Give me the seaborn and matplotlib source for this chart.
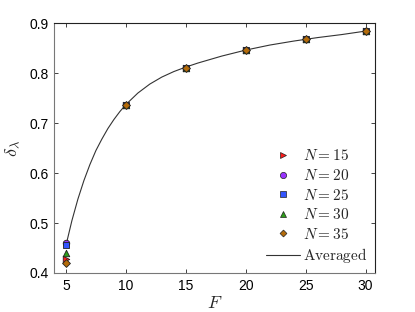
import pandas as pd
import matplotlib
matplotlib.use("Agg")
import matplotlib.pyplot as plt
import seaborn as sns
import numpy as np
from matplotlib.lines import Line2D

# values
F_vals = [5, 10, 15, 20, 25, 30]
N_vals = [15, 20, 25, 30, 35]
delta_N15 = [0.428, 0.737, 0.811, 0.847, 0.869, 0.885]
delta_N20 = [0.461, 0.737, 0.811, 0.847, 0.869, 0.885]
delta_N25 = [0.456, 0.737, 0.811, 0.847, 0.869, 0.885]
delta_N30 = [0.441, 0.737, 0.811, 0.847, 0.869, 0.885]
delta_N35 = [0.421, 0.737, 0.811, 0.847, 0.869, 0.885]

# averaged curve, read at many F
avg_F = [5, 5.5, 6, 6.5, 7, 7.5, 8, 8.5, 9, 9.5, 10, 11, 12, 13, 14, 15,
         16, 17, 18, 19, 20, 22, 24, 26, 28, 30]
avg_delta = [0.455, 0.505, 0.548, 0.585, 0.617, 0.645, 0.668, 0.689, 0.707,
             0.723, 0.737, 0.760, 0.778, 0.792, 0.803, 0.812, 0.820, 0.827,
             0.834, 0.840, 0.846, 0.856, 0.864, 0.871, 0.877, 0.884]

series = [delta_N15, delta_N20, delta_N25, delta_N30, delta_N35]
markers = [">", "o", "s", "^", "D"]
colors = ["#ff1a1a", "#9933ff", "#3355ff", "#2e9e1a", "#b36b0a"]

rows = []
for n, vals in zip(N_vals, series):
    for f, d in zip(F_vals, vals):
        rows.append({"F": f, "delta": d, "N": n})
df = pd.DataFrame(rows)
avg = pd.DataFrame({"F": avg_F, "delta": avg_delta})

sns.set_theme(style="ticks")
plt.rcParams["mathtext.fontset"] = "cm"
plt.rcParams["font.family"] = ["Liberation Sans", "DejaVu Sans"]

fig = plt.figure(figsize=(4.15, 3.12), dpi=100)
ax = fig.add_axes([0.130, 0.125, 0.774, 0.801])

sns.lineplot(data=avg, x="F", y="delta", ax=ax, color="#333333", lw=0.8, zorder=1)

for n, m, c in zip(N_vals, markers, colors):
    sub = df[df["N"] == n]
    sns.scatterplot(data=sub, x="F", y="delta", ax=ax, marker=m, color=c,
                    s=22 if m != "D" else 16, edgecolor="#222222", linewidth=0.6,
                    zorder=3, legend=False)

ax.set_xlim(4, 30.8)
ax.set_ylim(0.4, 0.9)
ax.set_xticks([5, 10, 15, 20, 25, 30])
ax.set_yticks([0.4, 0.5, 0.6, 0.7, 0.8, 0.9])
ax.tick_params(direction="in", top=True, right=True, labelsize=10, length=3,
               width=0.6, colors="#222222", pad=4)
for lab in ax.get_xticklabels() + ax.get_yticklabels():
    lab.set_color("black")
for side in ["left", "bottom"]:
    ax.spines[side].set_color("#777777")
for side in ["top", "right"]:
    ax.spines[side].set_color("#222222")
for sp in ax.spines.values():
    sp.set_linewidth(0.8)

ax.set_xlabel(r"$F$", fontsize=13, labelpad=2)
ax.set_ylabel(r"$\delta_\lambda$", fontsize=13, labelpad=6)

handles = []
for n, m, c in zip(N_vals, markers, colors):
    handles.append(Line2D([], [], ls="none", marker=m, color=c,
                          markeredgecolor="#222222", markeredgewidth=0.5,
                          markersize=4.5 if m != "D" else 3.5,
                          label=r"$N = %d$" % n))
handles.append(Line2D([], [], color="#333333", lw=0.8, label=r"$\mathrm{Averaged}$"))
ax.legend(handles=handles, loc="lower right", frameon=False, fontsize=11,
          handlelength=2.2, handletextpad=0.2, labelspacing=0.3,
          borderaxespad=0.1)

fig.savefig("out.png", dpi=100)
